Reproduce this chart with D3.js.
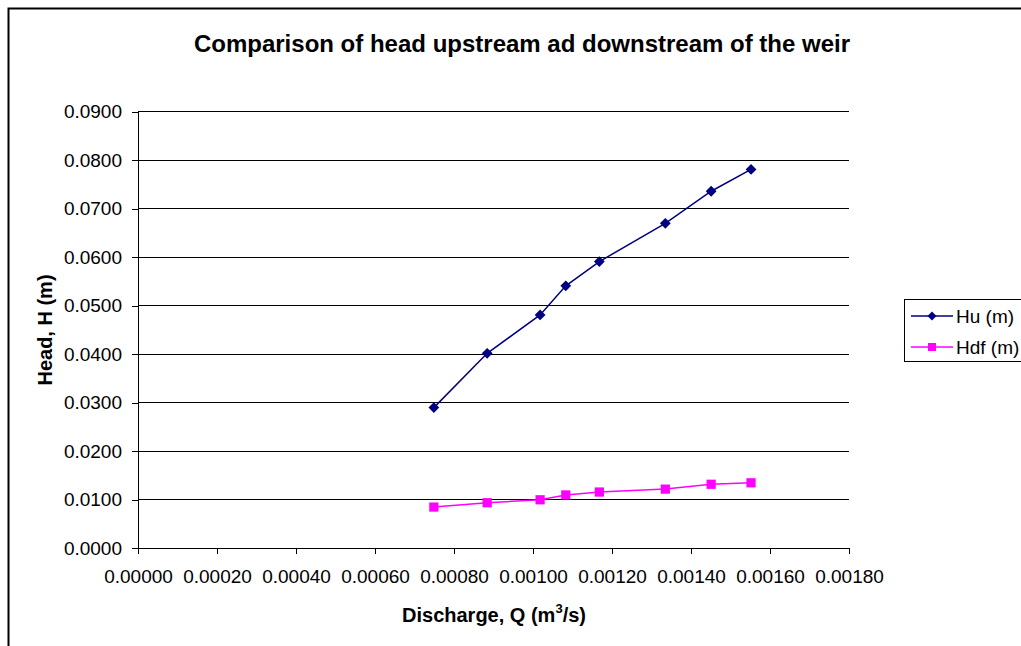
<!DOCTYPE html>
<html>
<head>
<meta charset="utf-8">
<script src="https://cdn.jsdelivr.net/npm/d3@7"></script>
<style>
  html, body { margin: 0; padding: 0; background: #fff; }
  svg { display: block; font-family: "Liberation Sans", Arial, sans-serif; }
</style>
</head>
<body>
<svg id="chart" width="1021" height="646"></svg>
<script>
// Discharge Q (m^3/s)
const discharge = [0.000749, 0.000884, 0.001018, 0.001083, 0.001168, 0.001335, 0.001451, 0.001552];
// Upstream head Hu (m)
const headUp = [0.0290, 0.0402, 0.0481, 0.0541, 0.0591, 0.0670, 0.0736, 0.0781];
// Downstream head Hdf (m)
const headDown = [0.0085, 0.0094, 0.0100, 0.0110, 0.0116, 0.0122, 0.0132, 0.0135];

const xTicks = [0, 0.0002, 0.0004, 0.0006, 0.0008, 0.0010, 0.0012, 0.0014, 0.0016, 0.0018];
const yTicks = [0, 0.01, 0.02, 0.03, 0.04, 0.05, 0.06, 0.07, 0.08, 0.09];
const seriesNames = ["Hu (m)", "Hdf (m)"];
const seriesColors = ["#000080", "#FF00FF"];

const svg = d3.select("#chart");

// Outer chart frame
svg.append("rect")
  .attr("x", 8.5).attr("y", 8.5)
  .attr("width", 1040).attr("height", 660)
  .attr("fill", "none").attr("stroke", "#000").attr("stroke-width", 2);

const plotLeft = 138, plotRight = 849, plotTop = 111.7, plotBottom = 548.3;
const x = d3.scaleLinear().domain([0, 0.0018]).range([plotLeft, plotRight]);
const y = d3.scaleLinear().domain([0, 0.09]).range([plotBottom, plotTop]);

// Horizontal gridlines
svg.append("g").selectAll("line")
  .data(yTicks.filter(d => d > 0))
  .join("line")
  .attr("x1", plotLeft).attr("x2", plotRight)
  .attr("y1", d => y(d)).attr("y2", d => y(d))
  .attr("stroke", "#000").attr("stroke-width", 1)
  .attr("shape-rendering", "crispEdges");

// Y axis
const yAxis = svg.append("g")
  .attr("transform", `translate(${plotLeft},0)`)
  .call(d3.axisLeft(y).tickValues(yTicks).tickFormat(d3.format(".4f")).tickSize(6).tickPadding(10));
yAxis.select(".domain").attr("stroke", "#000").attr("shape-rendering", "crispEdges");
yAxis.selectAll(".tick line").attr("stroke", "#000").attr("shape-rendering", "crispEdges");
yAxis.selectAll("text").attr("font-size", 19).attr("fill", "#000")
  .attr("font-family", "Liberation Sans, Arial, sans-serif");

// X axis
const xAxis = svg.append("g")
  .attr("transform", `translate(0,${plotBottom})`)
  .call(d3.axisBottom(x).tickValues(xTicks).tickFormat(d3.format(".5f")).tickSize(6).tickPadding(15));
xAxis.select(".domain").attr("stroke", "#000").attr("shape-rendering", "crispEdges");
xAxis.selectAll(".tick line").attr("stroke", "#000").attr("shape-rendering", "crispEdges");
xAxis.selectAll("text").attr("font-size", 19).attr("fill", "#000")
  .attr("font-family", "Liberation Sans, Arial, sans-serif");

// Title
svg.append("text")
  .attr("x", 522).attr("y", 52)
  .attr("text-anchor", "middle")
  .attr("font-size", 24).attr("font-weight", "bold")
  .text("Comparison of head upstream ad downstream of the weir");

// Axis titles
svg.append("text")
  .attr("transform", "translate(52,330) rotate(-90)")
  .attr("text-anchor", "middle")
  .attr("font-size", 20).attr("font-weight", "bold")
  .text("Head, H (m)");

const xl = svg.append("text")
  .attr("x", 494).attr("y", 622)
  .attr("text-anchor", "middle")
  .attr("font-size", 20).attr("font-weight", "bold");
xl.append("tspan").text("Discharge, Q (m");
xl.append("tspan").attr("font-size", 13).attr("dy", -9).text("3");
xl.append("tspan").attr("dy", 9).text("/s)");

// Series lines and markers (diamond = square rotated 45°)
const series = [headUp, headDown];
const markerSym = [
  d3.symbol().type(d3.symbolSquare).size(58),
  d3.symbol().type(d3.symbolSquare).size(85)
];
const markerRot = [45, 0];
const line = d3.line().x(d => x(d[0])).y(d => y(d[1]));

series.forEach((vals, i) => {
  const pts = discharge.map((q, j) => [q, vals[j]]);
  svg.append("path")
    .datum(pts)
    .attr("d", line)
    .attr("fill", "none")
    .attr("stroke", seriesColors[i])
    .attr("stroke-width", 1.5);
  svg.append("g").selectAll("path")
    .data(pts)
    .join("path")
    .attr("transform", d => `translate(${x(d[0])},${y(d[1])}) rotate(${markerRot[i]})`)
    .attr("d", markerSym[i])
    .attr("fill", seriesColors[i]);
});

// Legend
const lg = svg.append("g");
lg.append("rect")
  .attr("x", 904.5).attr("y", 299.5)
  .attr("width", 130).attr("height", 62)
  .attr("fill", "#fff").attr("stroke", "#000").attr("stroke-width", 1);
seriesNames.forEach((name, i) => {
  const yy = 316 + i * 31;
  lg.append("line")
    .attr("x1", 911).attr("x2", 953).attr("y1", yy).attr("y2", yy)
    .attr("stroke", seriesColors[i]).attr("stroke-width", 1.5);
  lg.append("path")
    .attr("transform", `translate(932,${yy}) rotate(${markerRot[i]})`)
    .attr("d", d3.symbol().type(d3.symbolSquare).size(i === 0 ? 40 : 64))
    .attr("fill", seriesColors[i]);
  lg.append("text")
    .attr("x", 956).attr("y", yy + 7)
    .attr("font-size", 19)
    .text(name);
});
</script>
</body>
</html>
